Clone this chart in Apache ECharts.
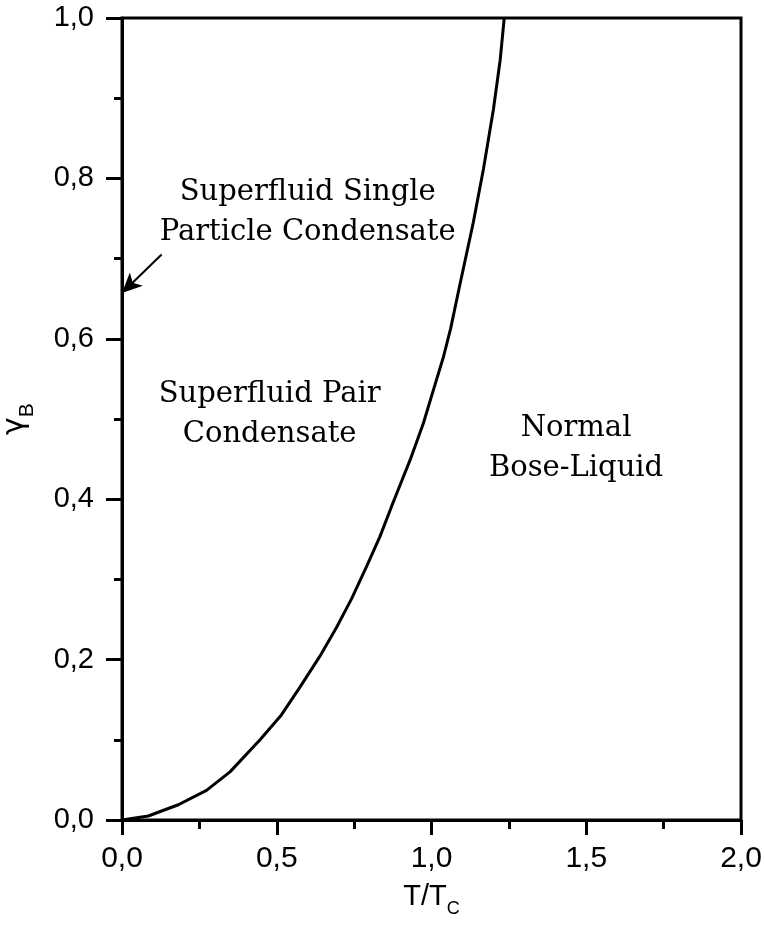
<!DOCTYPE html>
<html>
<head>
<meta charset="utf-8">
<script src="https://cdn.jsdelivr.net/npm/echarts@6/dist/echarts.min.js"></script>
<style>
html,body{margin:0;padding:0;background:#fff;}
#main{width:764px;height:926px;}
</style>
</head>
<body>
<div id="main"></div>
<script>
// phase boundary
var tRatio=[0,0.085,0.182,0.273,0.349,0.446,0.515,0.574,0.639,0.693,0.742,0.790,0.833,0.871,0.903,0.931,0.974,1.006,1.039,1.062,1.092,1.135,1.168,1.200,1.222,1.235];
var gammaB=[0,0.005,0.019,0.037,0.060,0.100,0.131,0.165,0.204,0.240,0.276,0.316,0.353,0.391,0.422,0.449,0.495,0.536,0.578,0.613,0.668,0.745,0.812,0.886,0.948,1.0];

// region labels (data coords of the text centre)
var regionText=["Superfluid Single\nParticle Condensate","Superfluid Pair\nCondensate","Normal\nBose-Liquid"];
var regionX=[0.600,0.477,1.467];
var regionY=[0.757,0.506,0.463];

// arrow pointing at the y axis
var arrowFrom=[0.128,0.705];
var arrowTo=[0,0.657];

var xTicks=[0,0.5,1.0,1.5,2.0];
var yTicks=[0,0.2,0.4,0.6,0.8,1.0];

var lineData=[];
for(var i=0;i<tRatio.length;i++){
  lineData.push([tRatio[i],gammaB[i]]);
}
var labelData=[];
for(var j=0;j<regionText.length;j++){
  labelData.push({name:regionText[j],value:[regionX[j],regionY[j]]});
}

function comma(v){
  return v.toFixed(1).replace('.',',');
}

var myChart=echarts.init(document.getElementById('main'));
var option={
  backgroundColor:'#fff',
  animation:false,
  grid:{
    left:122,
    right:23,
    top:18,
    bottom:106,
    outerBoundsMode:'none',
    containLabel:false,
    show:true,
    borderColor:'#000',
    borderWidth:3
  },
  xAxis:{
    type:'value',
    min:xTicks[0],
    max:xTicks[xTicks.length-1],
    interval:0.5,
    name:'{t|T/T}{s|C}',
    nameLocation:'middle',
    nameGap:62,
    nameTextStyle:{
      rich:{
        t:{fontFamily:'Liberation Sans',fontSize:29,color:'#000',verticalAlign:'bottom'},
        s:{fontFamily:'Liberation Sans',fontSize:18,color:'#000',verticalAlign:'bottom',padding:[0,0,-7,0]}
      }
    },
    axisLine:{lineStyle:{color:'#000',width:3}},
    axisTick:{show:true,length:15,lineStyle:{color:'#000',width:3}},
    minorTick:{show:true,splitNumber:2,length:9,lineStyle:{color:'#000',width:3}},
    splitLine:{show:false},
    axisLabel:{
      margin:24,
      fontFamily:'Liberation Sans',
      fontSize:30,
      color:'#000',
      formatter:comma
    }
  },
  yAxis:{
    type:'value',
    min:yTicks[0],
    max:yTicks[yTicks.length-1],
    interval:0.2,
    name:'{g|γ}{s|B}',
    nameLocation:'middle',
    nameRotate:90,
    nameGap:92,
    nameTextStyle:{
      rich:{
        g:{fontFamily:'DejaVu Sans',fontSize:30,color:'#000',verticalAlign:'bottom'},
        s:{fontFamily:'Liberation Sans',fontSize:21,color:'#000',verticalAlign:'bottom',padding:[0,0,-8,0]}
      }
    },
    axisLine:{lineStyle:{color:'#000',width:3}},
    axisTick:{show:true,length:16,lineStyle:{color:'#000',width:3}},
    minorTick:{show:true,splitNumber:2,length:8,lineStyle:{color:'#000',width:3}},
    splitLine:{show:false},
    axisLabel:{
      margin:28,
      fontFamily:'Liberation Sans',
      fontSize:29,
      color:'#000',
      formatter:comma
    }
  },
  series:[
    {
      name:'boundary',
      type:'line',
      data:lineData,
      showSymbol:false,
      smooth:false,
      clip:true,
      lineStyle:{color:'#000',width:3},
      markLine:{
        silent:true,
        symbol:['none','arrow'],
        symbolSize:[14,20],
        label:{show:false},
        lineStyle:{color:'#000',width:2,type:'solid'},
        data:[[{coord:arrowFrom},{coord:arrowTo}]]
      }
    },
    {
      name:'regions',
      type:'scatter',
      data:labelData,
      symbolSize:0,
      silent:true,
      itemStyle:{opacity:1},
      label:{
        show:true,
        position:'inside',
        formatter:function(p){return p.name;},
        fontFamily:'DejaVu Serif',
        fontSize:29,
        lineHeight:40,
        align:'center',
        color:'#000',
        opacity:1
      }
    }
  ]
};
myChart.setOption(option);
</script>
</body>
</html>
